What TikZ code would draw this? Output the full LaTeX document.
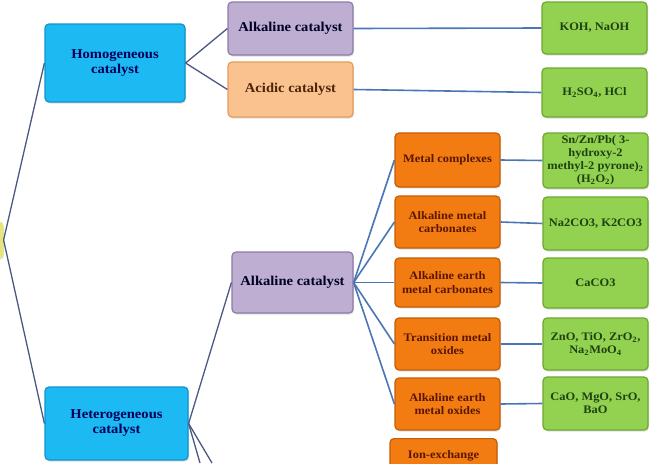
\documentclass[tikz,border=0pt]{standalone}
\usepackage{fontspec}
\setmainfont{Liberation Serif}[FakeStretch=1.08]
\usetikzlibrary{shadows}
\usetikzlibrary{positioning}

\definecolor{bluebox}{HTML}{1CB9F2}
\definecolor{blueedge}{HTML}{0F94CF}
\definecolor{lilacbox}{HTML}{BDAED2}
\definecolor{lilacedge}{HTML}{8D7CA6}
\definecolor{peachbox}{HTML}{FAC28E}
\definecolor{peachedge}{HTML}{E39C5C}
\definecolor{orangebox}{HTML}{F27C12}
\definecolor{orangeedge}{HTML}{C45E04}
\definecolor{greenbox}{HTML}{93D151}
\definecolor{greenedge}{HTML}{6DA82E}
\definecolor{yellowbox}{HTML}{E6E67A}
\definecolor{branch}{HTML}{4B5884}
\definecolor{twig}{HTML}{4A76B6}
\definecolor{acidtext}{HTML}{4E2408}
\definecolor{typetext}{HTML}{5A1600}
\definecolor{chemtext}{HTML}{1E4210}

\begin{document}
\begin{tikzpicture}[x=1pt,y=-1pt,
 box/.style={rectangle, rounded corners=4pt, line width=1.2pt, align=center,
   font=\bfseries, inner sep=1.5pt,
   drop shadow={opacity=0.25, shadow xshift=1pt, shadow yshift=-1.5pt}},
 catbox/.style={box, fill=bluebox, draw=blueedge, text=blue!35!black,
   font=\bfseries\fontsize{13.5}{15}\selectfont},
 alkbox/.style={box, fill=lilacbox, draw=lilacedge, text=black!85!blue,
   font=\bfseries\fontsize{13.5}{15}\selectfont},
 acidbox/.style={box, fill=peachbox, draw=peachedge, text=acidtext,
   font=\bfseries\fontsize{13.5}{15}\selectfont},
 typebox/.style={box, fill=orangebox, draw=orangeedge, text=typetext,
   minimum width=105pt, font=\bfseries\fontsize{11.5}{13.5}\selectfont},
 chembox/.style={box, fill=greenbox, draw=greenedge, text=chemtext,
   minimum width=105pt, font=\bfseries\fontsize{11.5}{13}\selectfont},
 branch/.style={draw=branch, line width=1.3pt},
 twig/.style={draw=twig, line width=1.6pt}]
    \useasboundingbox (0,0) rectangle (650,463);
    \clip (0,0) rectangle (650,463);

    % root (only its edge is visible)
    \node[box, fill=yellowbox, draw=yellowbox, minimum width=46pt, minimum height=36pt] (root) at (-20,240) {};

    % first level
    \node[catbox, minimum width=140pt, minimum height=78pt] (homog) at (115,63) {Homogeneous\\catalyst};
    \node[catbox, minimum width=143pt, minimum height=73pt] (heterog) at (116.5,423.5) {Heterogeneous\\catalyst};

    % homogeneous side
    \node[alkbox, minimum width=125pt, minimum height=53pt] (alkhom) at (290.5,28.5) {Alkaline catalyst};
    \node[acidbox, minimum width=125pt, minimum height=55pt] (acidhom) at (290.5,89.5) {Acidic catalyst};
    \node[chembox, minimum height=52pt] (koh) at (594.5,28) {KOH, NaOH};
    \node[chembox, minimum height=49pt] (hcl) at (594.5,92.5) {H\textsubscript{2}SO\textsubscript{4}, HCl};

    % heterogeneous side
    \node[alkbox, minimum width=121pt, minimum height=61pt] (alkhet) at (292.5,282.5) {Alkaline catalyst};

    \node[typebox, minimum height=54pt] (metcomp) at (447.5,160) {Metal complexes};
    \node[typebox, minimum height=52pt] (alkcarb) at (447.5,222) {Alkaline metal\\carbonates};
    \node[typebox, minimum height=49pt] (earthcarb) at (447.5,282.5) {Alkaline earth\\metal carbonates};
    \node[typebox, minimum height=52pt] (transox) at (447.5,344) {Transition metal\\oxides};
    \node[typebox, minimum height=52pt] (earthox) at (447.5,404) {Alkaline earth\\metal oxides};
    \node[typebox, minimum width=107pt, anchor=north, inner ysep=0pt, text height=20pt, text depth=32pt] (ionex) at (443.5,438) {Ion-exchange};

    \node[chembox, minimum height=55pt] (snzn) at (595.5,160.5) {Sn/Zn/Pb( 3-\\hydroxy-2\\methyl-2 pyrone)\textsubscript{2}\\(H\textsubscript{2}O\textsubscript{2})};
    \node[chembox, minimum height=53pt] (nacarb) at (595.5,223.5) {Na2CO3, K2CO3};
    \node[chembox, minimum height=50pt] (caco) at (595.5,283) {CaCO3};
    \node[chembox, minimum height=52pt] (zno) at (595.5,344) {ZnO, TiO, ZrO\textsubscript{2},\\Na\textsubscript{2}MoO\textsubscript{4}};
    \node[chembox, minimum height=53pt] (cao) at (595.5,403.5) {CaO, MgO, SrO,\\BaO};

    % loose ends running out of the picture
    \coordinate (outa) at (200,463);
    \coordinate (outb) at (212,463);

    % connectors
    \draw[branch] (root.east) -- (homog.west);
    \draw[branch] (root.east) -- (heterog.west);
    \draw[branch] (homog.east) -- (alkhom.west);
    \draw[branch] (homog.east) -- (acidhom.west);
    \draw[twig] (alkhom.east) -- (koh.west);
    \draw[twig] (acidhom.east) -- (hcl.west);
    \draw[branch] (heterog.east) -- (alkhet.west);
    \draw[branch] (heterog.east) -- (outa);
    \draw[branch] (heterog.east) -- (outb);
    \foreach \t/\c in {metcomp/snzn, alkcarb/nacarb, earthcarb/caco, transox/zno, earthox/cao} {
        \draw[twig] (alkhet.east) -- (\t.west);
        \draw[twig] (\t.east) -- (\c.west);
    }
\end{tikzpicture}
\end{document}
